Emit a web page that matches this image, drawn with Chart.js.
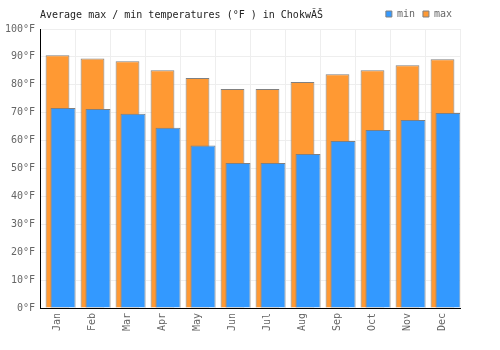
<!DOCTYPE html>
<html>
<head>
<meta charset="utf-8">
<script src="https://cdn.jsdelivr.net/npm/chart.js@4/dist/chart.umd.min.js"></script>
<style>
    body { margin: 0; background: #fff; }
    #caja { width: 500px; height: 350px; }
</style>
</head>
<body>
<div id="caja"><canvas id="graficaTemp"></canvas></div>
<script>
const meses = ["Jan", "Feb", "Mar", "Apr", "May", "Jun", "Jul", "Aug", "Sep", "Oct", "Nov", "Dec"];
const tempMin = [71.7, 71.3, 69.6, 64.6, 58.2, 52.0, 52.0, 55.2, 59.9, 63.8, 67.4, 69.9];
const tempMax = [90.6, 89.4, 88.4, 85.2, 82.4, 78.5, 78.5, 81.0, 83.8, 85.2, 87.0, 89.2];
const ticksY = [0, 10, 20, 30, 40, 50, 60, 70, 80, 90, 100];

const titulo = "Average max / min temperatures (°F ) in ChokwĂŠ";
const fuente = "DejaVu Sans Mono";

// dibuja el titulo en la misma linea que la leyenda
const pluginTitulo = {
    id: "tituloLinea",
    afterDraw(chart) {
        const ctx = chart.ctx;
        ctx.save();
        ctx.font = "10px '" + fuente + "'";
        ctx.fillStyle = "#222";
        ctx.textBaseline = "middle";
        ctx.textAlign = "left";
        ctx.fillText(titulo, 40, 15);
        ctx.restore();
    }
};

const ctx = document.getElementById("graficaTemp").getContext("2d");

const grafica = new Chart(ctx, {
    type: "bar",
    data: {
        labels: meses,
        datasets: [
            {
                label: "min",
                data: tempMin,
                backgroundColor: "#3399ff",
                borderColor: "#808080",
                borderWidth: 1,
                order: 1,
                categoryPercentage: 22 / 35,
                barPercentage: 25 / 11
            },
            {
                label: "max",
                data: tempMax,
                backgroundColor: "#ff9933",
                borderColor: "#808080",
                borderWidth: 1,
                order: 2,
                grouped: false,
                categoryPercentage: 1,
                barPercentage: 0.68
            },
            {
                // hueco vacio para correr la barra azul a la derecha
                label: "",
                data: [],
                order: 0
            }
        ]
    },
    options: {
        responsive: true,
        maintainAspectRatio: false,
        animation: false,
        layout: {
            padding: { left: 0, right: 40, top: 1, bottom: 0 }
        },
        plugins: {
            title: { display: false },
            tooltip: { enabled: false },
            legend: {
                display: true,
                position: "top",
                align: "end",
                labels: {
                    boxWidth: 6,
                    boxHeight: 6,
                    padding: 8,
                    color: "#666",
                    font: { family: fuente, size: 10 },
                    filter: item => item.text !== ""
                }
            }
        },
        scales: {
            x: {
                grid: { color: "#eeeeee", drawTicks: false, offset: true },
                border: { color: "#000", width: 1 },
                ticks: {
                    color: "#666",
                    font: { family: fuente, size: 10 },
                    minRotation: 90,
                    maxRotation: 90,
                    padding: 5
                },
                afterFit: scale => { scale.height = 42; }
            },
            y: {
                min: 0,
                max: 100,
                afterBuildTicks: scale => {
                    scale.ticks = ticksY.map(v => ({ value: v }));
                },
                grid: { color: "#eeeeee", drawTicks: false },
                border: { color: "#000", width: 1 },
                ticks: {
                    color: "#666",
                    font: { family: fuente, size: 10 },
                    padding: 5,
                    callback: v => v + "°F"
                },
                afterFit: scale => { scale.width = 40; }
            }
        }
    },
    plugins: [pluginTitulo]
});
</script>
</body>
</html>
